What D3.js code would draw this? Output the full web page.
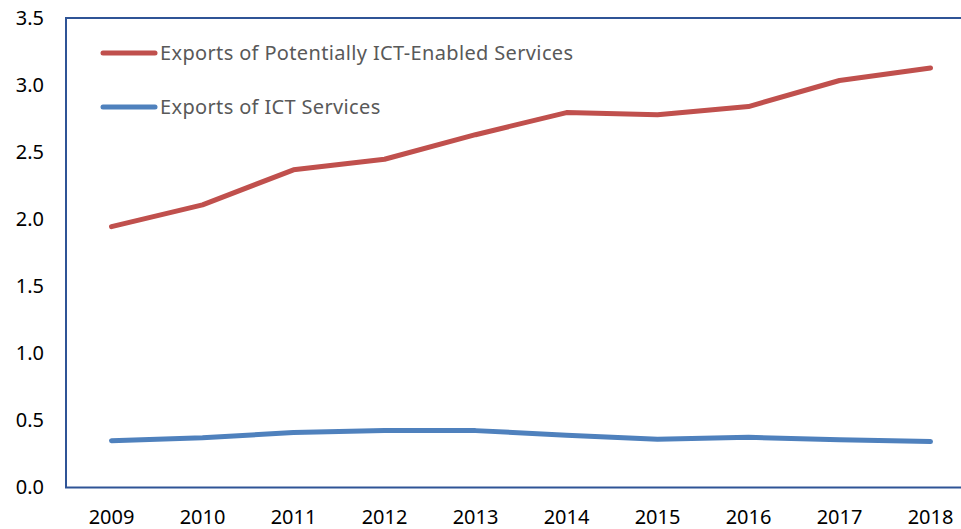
<!DOCTYPE html>
<html>
<head>
<meta charset="utf-8">
<script src="https://cdn.jsdelivr.net/npm/d3@7"></script>
<style>
  body { margin: 0; background: #fff; }
  text { font-family: "Noto Sans", sans-serif; }
</style>
</head>
<body>
<div id="chart"></div>
<script>
// data
const years = ["2009","2010","2011","2012","2013","2014","2015","2016","2017","2018"];
const ictEnabled = [1.945, 2.107, 2.368, 2.447, 2.63, 2.795, 2.778, 2.84, 3.034, 3.128];
const ictServices = [0.349, 0.371, 0.41, 0.424, 0.424, 0.39, 0.36, 0.374, 0.356, 0.342];
const yTicks = [0, 0.5, 1, 1.5, 2, 2.5, 3, 3.5];
const seriesNames = ["Exports of Potentially ICT-Enabled Services", "Exports of ICT Services"];
const seriesColors = ["#C0504D", "#4F81BD"];

const w = 961, h = 529;
const plotL = 66, plotT = 18, plotR = 976, plotB = 487.5;

const svg = d3.select("#chart")
  .append("svg")
  .attr("width", w)
  .attr("height", h);

const x = d3.scaleBand().domain(years).range([plotL, plotR]);
const y = d3.scaleLinear().domain([0, 3.5]).range([plotB, plotT]);

// plot border (right edge falls outside the picture)
svg.append("rect")
  .attr("x", plotL)
  .attr("y", plotT)
  .attr("width", plotR - plotL)
  .attr("height", plotB - plotT)
  .attr("fill", "none")
  .attr("stroke", "#2F5496")
  .attr("stroke-width", 2);

// y axis labels
const yAxis = svg.append("g")
  .attr("transform", "translate(" + plotL + ",0)")
  .call(d3.axisLeft(y).tickValues(yTicks).tickSize(0).tickPadding(22).tickFormat(d3.format(".1f")));
yAxis.select(".domain").remove();
yAxis.selectAll("text").style("font-size", "20px").attr("fill", "#000");

// x axis labels
const xAxis = svg.append("g")
  .attr("transform", "translate(0," + plotB + ")")
  .call(d3.axisBottom(x).tickSize(0).tickPadding(22));
xAxis.select(".domain").remove();
xAxis.selectAll("text").style("font-size", "20px").attr("fill", "#000");

// lines
const line = d3.line()
  .x((d, i) => x(years[i]) + x.bandwidth() / 2)
  .y(d => y(d));

[ictEnabled, ictServices].forEach((vals, k) => {
  svg.append("path")
    .datum(vals)
    .attr("d", line)
    .attr("fill", "none")
    .attr("stroke", seriesColors[k])
    .attr("stroke-width", 5)
    .attr("stroke-linecap", "round")
    .attr("stroke-linejoin", "round");
});

// legend
const legend = svg.selectAll(".legend")
  .data(seriesNames)
  .enter()
  .append("g")
  .attr("class", "legend")
  .attr("transform", (d, i) => "translate(0," + (53 + i * 54) + ")");

legend.append("line")
  .attr("x1", 103).attr("x2", 155)
  .attr("y1", 0).attr("y2", 0)
  .attr("stroke", (d, i) => seriesColors[i])
  .attr("stroke-width", 5)
  .attr("stroke-linecap", "round");

legend.append("text")
  .attr("x", 160)
  .attr("y", 0)
  .attr("dy", "0.35em")
  .style("font-size", "20px")
  .style("letter-spacing", "0.35px")
  .attr("fill", "#595959")
  .text(d => d);
</script>
</body>
</html>
